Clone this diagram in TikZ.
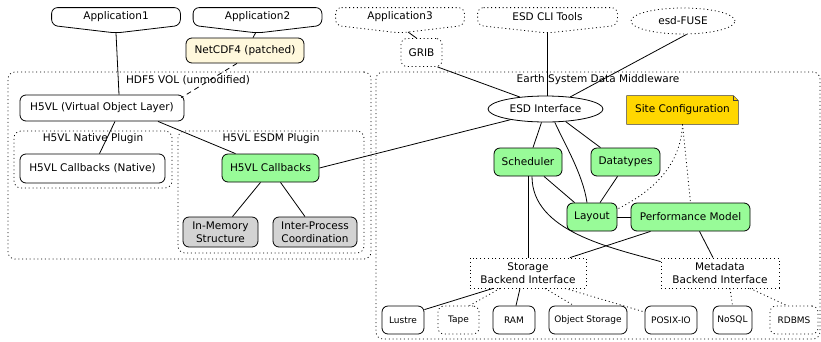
\documentclass[tikz,border=0pt]{standalone}
\usepackage{fontspec}
\setmainfont{DejaVu Sans}
\usetikzlibrary{shapes.geometric,calc,backgrounds}

\definecolor{palegreen}{HTML}{98FB98}
\definecolor{cornsilk}{HTML}{FFF8DC}
\definecolor{lgray}{HTML}{D3D3D3}
\definecolor{gold}{HTML}{FFD700}

\tikzset{
  lbl/.style={font=\fontsize{10.5}{13.5}\selectfont, inner sep=0pt, align=center},
  rbox/.style={lbl, draw, rounded corners=6pt, minimum height=28pt},
  gbox/.style={rbox, fill=palegreen},
  graybox/.style={rbox, fill=lgray, minimum height=30pt},
  small/.style={font=\fontsize{9}{10}\selectfont, inner sep=0pt, draw, rounded corners=6pt, minimum height=28pt},
  dots/.style={dash pattern=on 1pt off 2.8pt},
  cluster/.style={draw, dots, rounded corners=7pt, inner sep=0pt},
  iface/.style={lbl, draw, dots, minimum width=116pt, minimum height=30pt},
  appnode/.style={lbl, minimum width=128pt, minimum height=17pt},
  apptip/.style={rounded corners=6pt},
}

\begin{document}
\begin{tikzpicture}[x=1pt,y=-1pt,line width=0.8pt]
\useasboundingbox (0,0) rectangle (821,341);

% ---- clusters ----
\node[cluster, minimum width=363pt, minimum height=187pt] (vol) at (189.5,165.5) {};
\node[lbl] (vollbl) at (188,80) {HDF5 VOL (unmodified)};
\node[cluster, minimum width=444pt, minimum height=267pt] (mw) at (598,205.5) {};
\node[lbl] (mwlbl) at (598,80) {Earth System Data Middleware};
\node[cluster, minimum width=158pt, minimum height=57pt] (nativecl) at (93,159.5) {};
\node[lbl] (nativelbl) at (93,139) {H5VL Native Plugin};
\node[cluster, minimum width=186pt, minimum height=122pt] (plugincl) at (271,192) {};
\node[lbl] (pluginlbl) at (271,139) {H5VL ESDM Plugin};

% ---- applications (rounded boxes with a pointed base) ----
\node[appnode] (app1) at (116,16.5) {Application1};
\coordinate (app1tip) at (116,33);
\draw[apptip] (app1.north west) -- (app1.north east) -- (app1.south east) -- (app1tip) -- (app1.south west) -- cycle;

\node[appnode] (app2) at (257.5,16.5) {Application2};
\coordinate (app2tip) at (257.5,33);
\draw[apptip] (app2.north west) -- (app2.north east) -- (app2.south east) -- (app2tip) -- (app2.south west) -- cycle;

\node[appnode] (app3) at (400,16.5) {Application3};
\coordinate (app3tip) at (400,33);
\draw[apptip, dots] (app3.north west) -- (app3.north east) -- (app3.south east) -- (app3tip) -- (app3.south west) -- cycle;

\node[appnode, minimum width=139pt] (cli) at (547.5,16.5) {ESD CLI Tools};
\coordinate (clitip) at (547.5,33);
\draw[apptip, dots] (cli.north west) -- (cli.north east) -- (cli.south east) -- (clitip) -- (cli.south west) -- cycle;

\node[lbl, draw, dots, ellipse, minimum width=104pt, minimum height=26pt] (fuse) at (683,21) {esd-FUSE};

% ---- upper nodes ----
\node[rbox, fill=cornsilk, minimum width=118pt, minimum height=25pt] (netcdf) at (245,50.5) {NetCDF4 (patched)};
\node[lbl, draw, dots, rounded corners=6pt, minimum width=41pt, minimum height=28pt] (grib) at (421.5,52.5) {GRIB};

% ---- HDF5 side ----
\node[rbox, minimum width=164pt, minimum height=26pt] (h5vl) at (102,108) {H5VL (Virtual Object Layer)};
\node[rbox, minimum width=145pt, minimum height=29pt] (nativecb) at (92.5,168.5) {H5VL Callbacks (Native)};
\node[gbox, minimum width=97pt] (h5cb) at (270.5,168) {H5VL Callbacks};
\node[graybox, minimum width=75pt] (inmem) at (220.5,232) {In-Memory\\Structure};
\node[graybox, minimum width=84pt] (ipc) at (315,232) {Inter-Process\\Coordination};

% ---- middleware ----
\node[lbl, draw, ellipse, minimum width=115pt, minimum height=26pt] (esd) at (545.5,109) {ESD Interface};
\node[lbl, minimum width=111pt, minimum height=28pt] (site) at (682.5,110) {Site Configuration};
\begin{scope}[on background layer]
  \draw[fill=gold, draw=black!75] (site.north west) -- ($(site.north east)+(-5,0)$) -- ($(site.north east)+(0,5)$) -- (site.south east) -- (site.south west) -- cycle;
  \draw[draw=black!75] ($(site.north east)+(-5,0)$) -- ($(site.north east)+(-5,5)$) -- ($(site.north east)+(0,5)$);
\end{scope}
\node[gbox, minimum width=68pt] (sched) at (528,162) {Scheduler};
\node[gbox, minimum width=69pt] (dtypes) at (625.5,162) {Datatypes};
\node[gbox, minimum width=50pt] (layout) at (592,217) {Layout};
\node[gbox, minimum width=119pt] (perf) at (690.5,217) {Performance Model};
\node[iface] (storage) at (528,273) {Storage\\Backend Interface};
\node[iface, minimum width=118pt] (meta) at (720,273) {Metadata\\Backend Interface};

% ---- backends ----
\node[small, minimum width=42pt] (lustre) at (403,320) {Lustre};
\node[small, dots, minimum width=41pt] (tape) at (458.5,320) {Tape};
\node[small, minimum width=42pt] (ram) at (514,320) {RAM};
\node[small, minimum width=78pt] (obj) at (588,320) {Object Storage};
\node[small, minimum width=52pt] (posix) at (671,320) {POSIX-IO};
\node[small, minimum width=39pt] (nosql) at (732.5,320) {NoSQL};
\node[small, dots, minimum width=48pt] (rdbms) at (794,320) {RDBMS};

% ---- connectors ----
\draw (app1tip) -- ($(h5vl.north)+(17,0)$);
\draw ($(app2tip)+(-2,0)$) -- ($(netcdf.north)+(8,0)$);
\draw[dash pattern=on 5pt off 4pt] ($(netcdf.south)+(-8,0)$) -- ($(h5vl.north east)+(-3,3)$);
\draw ($(h5vl.south)+(13,0)$) -- ($(nativecb.north)+(7,0)$);
\draw ($(h5vl.south)+(56,0)$) -- ($(h5cb.north)+(-35,0)$);
\draw ($(h5cb.south)+(-10,0)$) -- ($(inmem.north)+(12,0)$);
\draw ($(h5cb.south)+(10,0)$) -- ($(ipc.north)+(-10,0)$);
\draw (h5cb.east) -- (esd.197);

\draw ($(app3tip)+(8,-1)$) -- ($(grib.north)+(-5,0)$);
\draw ($(grib.south east)+(-5,0)$) -- (esd.155);
\draw (clitip) -- (clitip |- esd.north);
\draw (fuse.-75) -- (esd.26);

\draw ($(esd.south)+(-4,0)$) -- ($(sched.north)+(5,0)$);
\draw (esd.-32) -- ($(dtypes.north)+(-25,0)$);
\draw (esd.-55) .. controls +(10,22) and +(-4,-28) .. ($(layout.north)+(-5,0)$);
\draw ($(sched.south)+(16,0)$) -- ($(layout.north west)+(8,0)$);
\draw ($(dtypes.south)+(-8,0)$) -- ($(layout.north)+(8,0)$);
\draw (layout.east) -- (perf.west);
\draw[dots] (site.south) .. controls +(-2,45) and +(30,-15) .. ($(layout.east)+(0,-8)$);
\draw[dots] (site.south) -- (perf.north);

\draw (sched.south) -- (storage.north);
\draw ($(sched.south)+(4,0)$) .. controls +(0,55) and +(-50,-14) .. ($(meta.north west)+(0,4)$);
\draw ($(perf.south)+(-40,0)$) -- ($(storage.north)+(42,0)$);
\draw ($(perf.south)+(9,0)$) -- ($(meta.north)+(-7,0)$);

\draw ($(storage.south)+(-35,0)$) -- ($(lustre.north east)+(0,4)$);
\draw[dots] ($(storage.south)+(-28,0)$) -- ($(tape.north)+(11,0)$);
\draw ($(storage.south)+(-8,0)$) -- ($(ram.north)+(2,0)$);
\draw[dots] ($(storage.south)+(17,0)$) -- ($(obj.north)+(-14,0)$);
\draw[dots] ($(storage.south)+(37,0)$) -- ($(posix.west)+(0,-8)$);
\draw[dots] ($(meta.south)+(10,0)$) -- (nosql.north);
\draw[dots] ($(meta.south)+(30,0)$) -- ($(rdbms.north)+(-7,0)$);
\end{tikzpicture}
\end{document}
